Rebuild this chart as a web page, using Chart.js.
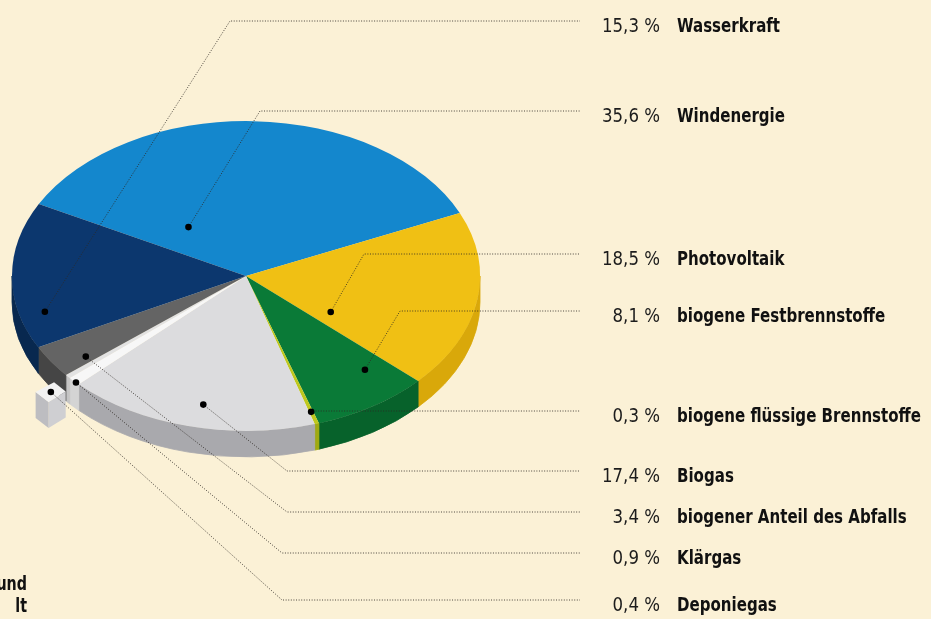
<!DOCTYPE html>
<html><head><meta charset="utf-8">
<script src="https://cdn.jsdelivr.net/npm/chart.js@4"></script>
<style>html,body{margin:0;padding:0;background:#fbf1d6;overflow:hidden}</style>
</head><body>
<canvas id="c" width="931" height="619"></canvas>
<script>
// ---- data ----
const categories = ['Windenergie','Photovoltaik','biogene Festbrennstoffe','biogene flüssige Brennstoffe','Biogas','Klärgas','Deponiegas','biogener Anteil des Abfalls','Wasserkraft'];
const shares = [35.6, 18.5, 8.1, 0.3, 17.4, 0.9, 0.4, 3.4, 15.3];
const shareLabels = shares.map(v => v.toFixed(1).replace('.', ',') + ' %');
const footnoteLines = ['und', 'lt'];

// ---- styles / layout ----
const BG = '#fbf1d6';
const topColors  = ['#1487cd','#f0c014','#0a7a37','#bec81e','#dcdcde','#f7f7f7','#e2e2e2','#646464','#0c376e'];
const sideColors = ['#0f6aa5','#d9a80a','#07622b','#a0aa10','#a9a9ad','#d4d4d4','#c4c4c4','#454545','#08284f'];
const lineY  = [111, 254, 311, 411, 471, 553, 600, 512, 21];
const elbowX = [260, 364, 400, null, 287, 282, 282, 287, 230];
const dotT   = [0.19, 0.85, 0.25, 0.5, 0.47, 0.3, 0.5, 0.2, 0.225];
const dotR   = [0.40, 0.43, 0.79, 0.92, 0.85, 1.0, 0.95, 0.86, 0.89];
const pullOut = [0, 0, 0, 0, 0, 0, 34, 0, 0];
const K = 0.662, THICK = 26, LINE_END = 580, PCT_X = 660, NAME_X = 677;
const NAME_W_TARGET = 244, PCT_W_TARGET = 58;
const FONT = "'Liberation Sans Narrow','DejaVu Sans Condensed','Roboto Condensed',sans-serif";

function squeezed(ctx, str, x, y, align, sx) {
  ctx.save();
  ctx.translate(x, y);
  ctx.scale(sx, 1);
  ctx.textAlign = align;
  ctx.fillText(str, 0, 0);
  ctx.restore();
}

const pie3d = {
  id: 'pie3d',
  beforeDraw(chart) {
    const ctx = chart.ctx;
    ctx.save(); ctx.fillStyle = BG; ctx.fillRect(0, 0, chart.width, chart.height); ctx.restore();
  },
  beforeDatasetsDraw(chart) {
    const ctx = chart.ctx;
    const meta = chart.getDatasetMeta(0);
    const a0 = meta.data[0];
    const cx = a0.x, cy = a0.y, R = a0.outerRadius;
    meta.data.forEach((arc, i) => {
      for (let k = -1; k <= 2; k++) {
        const lo = Math.max(arc.startAngle, 2 * Math.PI * k);
        const hi = Math.min(arc.endAngle, 2 * Math.PI * k + Math.PI);
        if (hi > lo) {
          ctx.beginPath();
          ctx.ellipse(cx, cy, R, R * K, 0, lo, hi);
          ctx.ellipse(cx, cy + THICK, R, R * K, 0, hi, lo, true);
          ctx.closePath();
          ctx.fillStyle = sideColors[i];
          ctx.fill();
          ctx.strokeStyle = sideColors[i]; ctx.lineWidth = 0.8; ctx.stroke();
        }
      }
    });
    ctx.save();
    ctx.translate(cx, cy); ctx.scale(1, K); ctx.translate(-cx, -cy);
  },
  afterDatasetsDraw(chart) {
    const ctx = chart.ctx;
    ctx.restore();
    const meta = chart.getDatasetMeta(0);
    // pulled-out pieces (small block)
    meta.data.forEach((arc, i) => {
      if (!pullOut[i]) return;
      const mid = (arc.startAngle + arc.endAngle) / 2;
      const ox = Math.cos(mid) * pullOut[i], oy = Math.sin(mid) * pullOut[i] * K + 6;
      const p = (a, rf) => [arc.x + ox + Math.cos(a) * rf * arc.outerRadius,
                            arc.y + oy + Math.sin(a) * rf * arc.outerRadius * K];
      const a1 = arc.startAngle - 0.03, a2 = arc.endAngle + 0.03;
      const q = [p(a1, 0.9), p(a1, 1.0), p(a2, 1.0), p(a2, 0.9)];
      ctx.fillStyle = '#cfcfd2';
      ctx.beginPath();
      ctx.moveTo(q[0][0], q[0][1]); ctx.lineTo(q[1][0], q[1][1]);
      ctx.lineTo(q[1][0], q[1][1] + THICK); ctx.lineTo(q[0][0], q[0][1] + THICK); ctx.closePath(); ctx.fill();
      ctx.fillStyle = '#bdbdc1';
      ctx.beginPath();
      ctx.moveTo(q[1][0], q[1][1]); ctx.lineTo(q[2][0], q[2][1]);
      ctx.lineTo(q[2][0], q[2][1] + THICK); ctx.lineTo(q[1][0], q[1][1] + THICK); ctx.closePath(); ctx.fill();
      ctx.fillStyle = '#f2f2f2';
      ctx.beginPath();
      q.forEach((pt, j) => j ? ctx.lineTo(pt[0], pt[1]) : ctx.moveTo(pt[0], pt[1]));
      ctx.closePath(); ctx.fill();
    });
    ctx.font = 'bold 20px ' + FONT;
    const sxName = NAME_W_TARGET / ctx.measureText('biogene flüssige Brennstoffe').width;
    ctx.font = '20px ' + FONT;
    const sxPct = PCT_W_TARGET / ctx.measureText('15,3 %').width;
    meta.data.forEach((arc, i) => {
      const ang = arc.startAngle + dotT[i] * (arc.endAngle - arc.startAngle);
      const mid = (arc.startAngle + arc.endAngle) / 2;
      const r = dotR[i] * arc.outerRadius;
      const dx = arc.x + Math.cos(ang) * r + Math.cos(mid) * pullOut[i];
      const dy = arc.y + (Math.sin(ang) * r + Math.sin(mid) * pullOut[i]) * K + (pullOut[i] ? 6 : 0);
      const ex = elbowX[i] == null ? dx : elbowX[i];
      ctx.save();
      ctx.strokeStyle = 'rgba(45,40,35,0.85)';
      ctx.lineWidth = 1;
      ctx.setLineDash([1, 1.6]);
      ctx.beginPath();
      ctx.moveTo(dx, dy);
      ctx.lineTo(ex, lineY[i]);
      ctx.lineTo(LINE_END, lineY[i]);
      ctx.stroke();
      ctx.restore();
      ctx.beginPath();
      ctx.arc(dx, dy, 3.3, 0, Math.PI * 2);
      ctx.fillStyle = '#000';
      ctx.fill();
      ctx.textBaseline = 'middle';
      ctx.fillStyle = '#1c1c1c';
      ctx.font = '20px ' + FONT;
      squeezed(ctx, shareLabels[i], PCT_X, lineY[i] + 6, 'right', sxPct);
      ctx.font = 'bold 20px ' + FONT;
      ctx.fillStyle = '#111';
      squeezed(ctx, categories[i], NAME_X, lineY[i] + 6, 'left', sxName);
    });
    ctx.textBaseline = 'middle';
    ctx.font = 'bold 19px ' + FONT;
    ctx.fillStyle = '#111';
    squeezed(ctx, footnoteLines[0], 27, 585, 'right', sxName);
    squeezed(ctx, footnoteLines[1], 27, 607, 'right', sxName);
  }
};

new Chart(document.getElementById('c'), {
  type: 'pie',
  data: {
    labels: categories,
    datasets: [{ data: shares, backgroundColor: topColors, borderWidth: 0, clip: false }]
  },
  options: {
    responsive: false,
    animation: false,
    events: [],
    rotation: 297.7,
    layout: { padding: { left: 12, right: 451, top: 42, bottom: 109 } },
    plugins: { legend: { display: false }, tooltip: { enabled: false } }
  },
  plugins: [pie3d]
});
</script>
</body></html>
